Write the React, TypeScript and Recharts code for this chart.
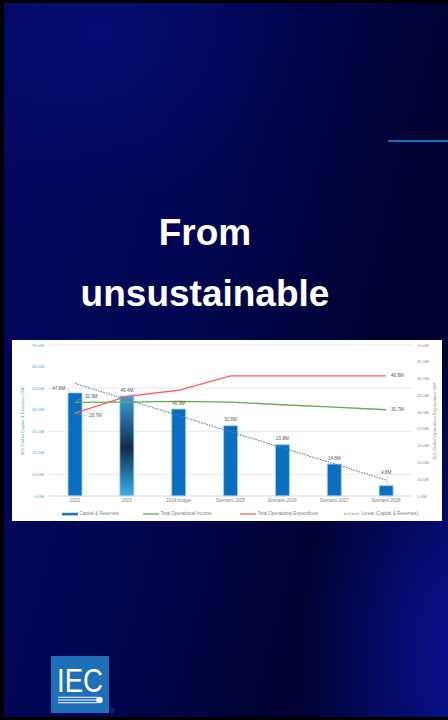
import React from "react";
import {
  ComposedChart,
  Bar,
  Line,
  XAxis,
  YAxis,
  CartesianGrid,
  Legend,
  LabelList,
  Cell,
} from "recharts";

// values (CHF, millions)
const categories = [
  "2022",
  "2023",
  "2024 budget",
  "Scenario 2025",
  "Scenario 2026",
  "Scenario 2027",
  "Scenario 2028",
];
const capitalReserves = [47.8, 46.4, 40.3, 32.6, 23.8, 14.8, 4.8];
const operationalIncome = [32.9, 33.0, 33.2, 33.0, 32.2, 31.5, 30.7];
const operationalExpenditure = [29.7, 34.7, 36.5, 40.8, 40.8, 40.8, 40.8];
const capitalTrend = [52.2, 44.7, 37.3, 29.8, 22.4, 14.9, 7.4];
const leftTicks = [0, 10, 20, 30, 40, 50, 60, 70];
const rightTicks = [5, 10, 15, 20, 25, 30, 35, 40, 45, 50];

const chartData = categories.map((name, i) => ({
  name,
  capital: capitalReserves[i],
  income: operationalIncome[i],
  expenditure: operationalExpenditure[i],
  trend: capitalTrend[i],
}));

const fmt = (v: number) => `${v.toFixed(1)}M`;
const lastIndex = categories.length - 1;
const FONT = "'Liberation Sans', Arial, sans-serif";
const labelStyle = { fontSize: 4.6, fill: "#595959", fontFamily: FONT };

function BarValueLabel(props: any) {
  const { x, y, width, value, index } = props;
  const cx = x + width / 2;
  if (index === 0) {
    return (
      <g>
        <text x={x - 3} y={y - 4} textAnchor="end" dominantBaseline="middle" {...labelStyle}>
          {fmt(value)}
        </text>
        <line x1={x - 2.5} y1={y - 4} x2={x + 3} y2={y - 0.5} stroke="#a6a6a6" strokeWidth={0.5} />
      </g>
    );
  }
  if (index === lastIndex) {
    return (
      <g>
        <text x={cx} y={y - 13} textAnchor="middle" dominantBaseline="middle" {...labelStyle}>
          {fmt(value)}
        </text>
        <line x1={cx + 1} y1={y - 10} x2={cx + 1} y2={y - 1} stroke="#a6a6a6" strokeWidth={0.5} />
      </g>
    );
  }
  return (
    <text x={cx} y={y - 5.5} textAnchor="middle" dominantBaseline="middle" {...labelStyle}>
      {fmt(value)}
    </text>
  );
}

function IncomeLabel(props: any) {
  const { x, y, value, index } = props;
  if (index === 0) {
    return (
      <g>
        <line x1={x} y1={y} x2={x + 8} y2={y - 5} stroke="#a6a6a6" strokeWidth={0.5} />
        <text x={x + 10} y={y - 5.5} dominantBaseline="middle" {...labelStyle}>
          {fmt(value)}
        </text>
      </g>
    );
  }
  if (index === lastIndex) {
    return (
      <text x={x + 5} y={y} dominantBaseline="middle" {...labelStyle}>
        {fmt(value)}
      </text>
    );
  }
  return null;
}

function ExpenditureLabel(props: any) {
  const { x, y, value, index } = props;
  if (index === 0) {
    return (
      <g>
        <line x1={x} y1={y} x2={x + 12} y2={y + 3} stroke="#a6a6a6" strokeWidth={0.5} />
        <text x={x + 14} y={y + 3} dominantBaseline="middle" {...labelStyle}>
          {fmt(value)}
        </text>
      </g>
    );
  }
  if (index === lastIndex) {
    return (
      <text x={x + 5} y={y} dominantBaseline="middle" {...labelStyle}>
        {fmt(value)}
      </text>
    );
  }
  return null;
}

const legendItems = [
  { label: "Capital & Reserves", left: 50, kind: "bar", color: "#1a75c8" },
  { label: "Total Operational Income", left: 131, kind: "line", color: "#70ad47" },
  { label: "Total Operational Expenditure", left: 228, kind: "line", color: "#ff5b5b" },
  { label: "Linear (Capital & Reserves)", left: 332, kind: "dot", color: "#5b7c99" },
];

function Swatch({ kind, color }: { kind: string; color: string }) {
  return (
    <svg width={16} height={4} style={{ marginRight: 1.5, display: "block" }}>
      {kind === "bar" && <rect x={0} y={0.8} width={16} height={2.6} fill={color} />}
      {kind === "line" && <line x1={0} y1={2} x2={16} y2={2} stroke={color} strokeWidth={1.3} />}
      {kind === "dot" && (
        <line x1={0} y1={2} x2={16} y2={2} stroke={color} strokeWidth={1.1} strokeDasharray="1.5 1.2" />
      )}
    </svg>
  );
}

function ChartLegend() {
  return (
    <div style={{ position: "relative", width: 430, height: 14 }}>
      {legendItems.map((it) => (
        <div
          key={it.label}
          style={{
            position: "absolute",
            left: it.left,
            top: 5,
            display: "flex",
            alignItems: "center",
            fontFamily: FONT,
            fontSize: 4.6,
            color: "#7f7f7f",
            whiteSpace: "nowrap",
          }}
        >
          <Swatch kind={it.kind} color={it.color} />
          {it.label}
        </div>
      ))}
    </div>
  );
}

function CapitalChart() {
  return (
    <ComposedChart
      width={430}
      height={181}
      data={chartData}
      margin={{ top: 5, right: 0, bottom: 1, left: 0 }}
    >
      <defs>
        <linearGradient id="bar2023" x1="0" y1="0" x2="0" y2="1">
          <stop offset="0%" stopColor="#3a9fde" />
          <stop offset="52%" stopColor="#0f2c48" />
          <stop offset="100%" stopColor="#3bb0ee" />
        </linearGradient>
      </defs>
      <CartesianGrid yAxisId="left" vertical={false} stroke="#d9d9d9" strokeWidth={0.6} />
      <XAxis
        dataKey="name"
        interval={0}
        height={10}
        tickSize={0}
        tickMargin={3}
        tickLine={false}
        axisLine={{ stroke: "#d9d9d9", strokeWidth: 0.6 }}
        tick={{ fontSize: 4.5, fill: "#7f7f7f", fontFamily: FONT }}
      />
      <YAxis
        yAxisId="left"
        width={37}
        domain={[0, 70]}
        ticks={leftTicks}
        tickFormatter={fmt}
        tickSize={0}
        tickMargin={5}
        axisLine={false}
        tickLine={false}
        tick={{ fontSize: 4.3, fill: "#5b9bd5", fontFamily: FONT }}
        label={{
          value: "IEC Global Capital & Reserves CHF",
          angle: -90,
          position: "insideLeft",
          offset: 10,
          style: { fontSize: 4.3, fill: "#5b9bd5", fontFamily: FONT, textAnchor: "middle" },
        }}
      />
      <YAxis
        yAxisId="right"
        orientation="right"
        width={30}
        domain={[5, 50]}
        ticks={rightTicks}
        tickFormatter={fmt}
        tickSize={0}
        tickMargin={5}
        axisLine={false}
        tickLine={false}
        tick={{ fontSize: 4.3, fill: "#8c8c8c", fontFamily: FONT }}
        label={{
          value: "IEC Global Operations Expenditure CHF",
          angle: -90,
          position: "insideRight",
          offset: 8,
          style: { fontSize: 4.3, fill: "#8c8c8c", fontFamily: FONT, textAnchor: "middle" },
        }}
      />
      <Bar
        yAxisId="left"
        dataKey="capital"
        barSize={14}
        stroke="#a9d0f0"
        strokeWidth={0.8}
        isAnimationActive={false}
      >
        {chartData.map((d, i) => (
          <Cell key={d.name} fill={i === 1 ? "url(#bar2023)" : "#0a6fc2"} />
        ))}
        <LabelList dataKey="capital" content={BarValueLabel} />
      </Bar>
      <Line
        yAxisId="right"
        type="linear"
        dataKey="income"
        stroke="#6aa84f"
        strokeWidth={1.3}
        dot={false}
        isAnimationActive={false}
      >
        <LabelList dataKey="income" content={IncomeLabel} />
      </Line>
      <Line
        yAxisId="right"
        type="linear"
        dataKey="expenditure"
        stroke="#ff5b5b"
        strokeWidth={1.4}
        dot={false}
        isAnimationActive={false}
      >
        <LabelList dataKey="expenditure" content={ExpenditureLabel} />
      </Line>
      <Line
        yAxisId="left"
        type="linear"
        dataKey="trend"
        stroke="#5b7c99"
        strokeWidth={1.1}
        strokeDasharray="1.5 1.2"
        dot={false}
        isAnimationActive={false}
      />
      <Legend verticalAlign="bottom" height={14} content={() => <ChartLegend />} />
    </ComposedChart>
  );
}

export default function App() {
  return (
    <div
      style={{
        position: "fixed",
        left: 0,
        top: 0,
        width: 448,
        height: 720,
        background: "#000",
        overflow: "hidden",
      }}
    >
      <div
        style={{
          position: "absolute",
          left: 4,
          top: 3,
          width: 444,
          height: 714,
          background:
            "radial-gradient(ellipse 200px 170px at 95px 30px, rgba(6,16,130,0.55), rgba(6,16,130,0) 100%)," +
            "radial-gradient(ellipse 160px 300px at 455px 650px, rgba(10,20,170,0.8), rgba(10,20,170,0) 100%)," +
            "linear-gradient(105deg, #020860 0%, #020652 40%, #010232 72%, #010333 100%)",
        }}
      />
      <svg
        width={448}
        height={720}
        style={{ position: "absolute", left: 0, top: 0 }}
      >
        <rect x={388} y={140} width={60} height={2} fill="#1d6bc0" />
        <text
          x={205}
          y={245}
          textAnchor="middle"
          fontFamily={FONT}
          fontWeight="bold"
          fontSize={37}
          fill="#ffffff"
        >
          From
        </text>
        <text
          x={205}
          y={306}
          textAnchor="middle"
          fontFamily={FONT}
          fontWeight="bold"
          fontSize={37}
          fill="#ffffff"
        >
          unsustainable
        </text>
        <rect x={51} y={656} width={58} height={57} fill="#1f6eb8" />
        <text
          x={57}
          y={692}
          fontFamily={FONT}
          fontSize={34}
          fill="#ffffff"
          textLength={46}
          lengthAdjust="spacingAndGlyphs"
        >
          IEC
        </text>
        <line x1={58} y1={697.3} x2={97} y2={697.3} stroke="#fff" strokeWidth={1.1} />
        <line x1={58} y1={700} x2={97} y2={700} stroke="#fff" strokeWidth={1.1} />
        <line x1={58} y1={702.7} x2={97} y2={702.7} stroke="#fff" strokeWidth={1.1} />
        <circle cx={99.5} cy={700} r={3.2} fill="#fff" />
        <text x={110} y={713} fontFamily={FONT} fontSize={6} fill="#1f6eb8">
          ®
        </text>
      </svg>
      <div
        style={{
          position: "absolute",
          left: 12,
          top: 340,
          width: 430,
          height: 181,
          background: "#ffffff",
        }}
      >
        <CapitalChart />
      </div>
    </div>
  );
}
